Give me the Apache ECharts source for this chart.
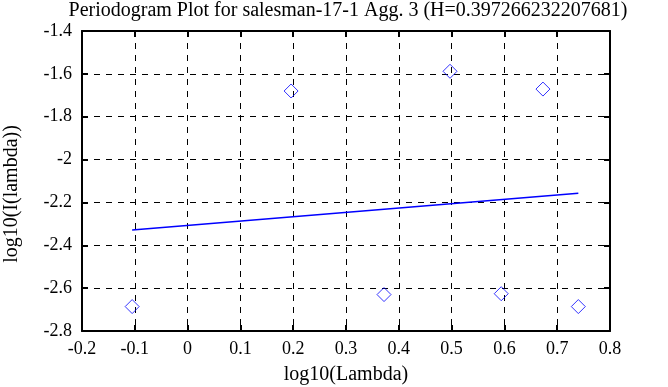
<!DOCTYPE html>
<html><head><meta charset="utf-8">
<script src="https://cdn.jsdelivr.net/npm/echarts@6/dist/echarts.min.js"></script>
<style>html,body{margin:0;padding:0;background:#fff}#c{width:668px;height:387px}</style>
</head><body><div id="c"></div>
<script>
const titleText = 'Periodogram Plot for salesman-17-1 Agg. 3 (H=0.397266232207681)';
const logLambda = [-0.105, 0.196, 0.372, 0.497, 0.594, 0.673, 0.740];
const logPeriodogram = [-2.686, -1.680, -2.630, -1.588, -2.626, -1.671, -2.686];
const fitX = [-0.105, 0.740];
const fitY = [-2.329, -2.157];
const xTicks = [-0.2, 0.8, 0.1];
const yTicks = [-2.8, -1.4, 0.2];

const font = 'Liberation Serif';
const chart = echarts.init(document.getElementById('c'));
const axisCommon = {
  axisLine: {show: true, onZero: false, lineStyle: {color: '#000', width: 2}},
  axisTick: {show: true, inside: true, length: 6, lineStyle: {color: '#000', width: 2}},
  splitLine: {show: true, lineStyle: {color: '#000', type: [6, 6], width: 1}},
};
chart.setOption({
  animation: false,
  title: {text: titleText, left: 348, textAlign: 'center', top: 1, padding: 0,
    textStyle: {fontFamily: font, fontSize: 20, fontWeight: 'normal', color: '#000'}},
  grid: {left: 82, right: 58, top: 31, bottom: 56, containLabel: false, outerBoundsMode: 'none'},
  xAxis: [
    Object.assign({type: 'value', min: xTicks[0], max: xTicks[1], interval: xTicks[2],
      name: 'log10(Lambda)', nameLocation: 'middle', nameGap: 34,
      nameTextStyle: {fontFamily: font, fontSize: 20, color: '#000'},
      axisLabel: {fontFamily: font, fontSize: 18, color: '#000', margin: 9,
        formatter: v => String(Math.round(v * 10) / 10)}}, axisCommon),
    Object.assign({type: 'value', position: 'top', min: xTicks[0], max: xTicks[1], interval: xTicks[2],
      axisLabel: {show: false}}, axisCommon, {splitLine: {show: false}})
  ],
  yAxis: [
    Object.assign({type: 'value', min: yTicks[0], max: yTicks[1], interval: yTicks[2],
      name: 'log10(I(lambda))', nameLocation: 'middle', nameGap: 60,
      nameTextStyle: {fontFamily: font, fontSize: 20, color: '#000', padding: [0, 26, 0, 0]},
      axisLabel: {fontFamily: font, fontSize: 18, color: '#000', margin: 10,
        formatter: v => String(Math.round(v * 10) / 10)}}, axisCommon),
    Object.assign({type: 'value', position: 'right', min: yTicks[0], max: yTicks[1], interval: yTicks[2],
      axisLabel: {show: false}}, axisCommon, {splitLine: {show: false}})
  ],
  series: [
    {type: 'scatter', data: logLambda.map((x, i) => [x, logPeriodogram[i]]),
      symbol: 'diamond', symbolSize: 14,
      itemStyle: {color: 'rgba(0,0,0,0)', borderColor: '#0000ff', borderWidth: 1}},
    {type: 'line', data: fitX.map((x, i) => [x, fitY[i]]), symbol: 'none',
      lineStyle: {color: '#0000ff', width: 1.5}}
  ]
});
</script></body></html>
